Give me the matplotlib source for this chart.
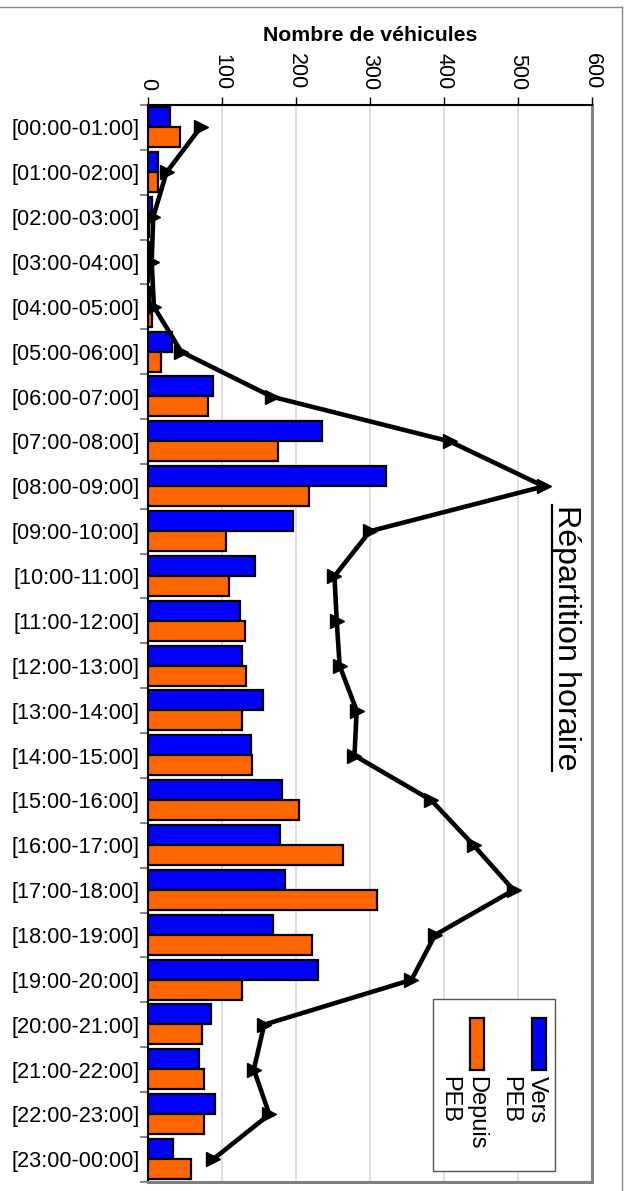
import matplotlib
matplotlib.use("Agg")
import matplotlib.pyplot as plt
from matplotlib.patches import Rectangle
from matplotlib.lines import Line2D
import numpy as np

plt.rcParams['font.family'] = ['Liberation Sans', 'DejaVu Sans']

# tranches horaires
hours = ['[00:00-01:00]', '[01:00-02:00]', '[02:00-03:00]', '[03:00-04:00]',
         '[04:00-05:00]', '[05:00-06:00]', '[06:00-07:00]', '[07:00-08:00]',
         '[08:00-09:00]', '[09:00-10:00]', '[10:00-11:00]', '[11:00-12:00]',
         '[12:00-13:00]', '[13:00-14:00]', '[14:00-15:00]', '[15:00-16:00]',
         '[16:00-17:00]', '[17:00-18:00]', '[18:00-19:00]', '[19:00-20:00]',
         '[20:00-21:00]', '[21:00-22:00]', '[22:00-23:00]', '[23:00-00:00]']

# valeurs
vers_peb = [30, 14, 5, 2, 3, 32, 88, 235, 322, 196, 144, 124,
            127, 156, 139, 181, 178, 185, 169, 230, 85, 69, 90, 34]
depuis_peb = [43, 13, 2, 1, 5, 17, 81, 175, 217, 105, 110, 131,
              132, 127, 140, 204, 264, 309, 222, 127, 73, 75, 75, 58]
total = [71, 25, 7, 5, 8, 45, 167, 408, 535, 300, 252, 255,
         259, 282, 279, 383, 440, 494, 388, 356, 157, 143, 164, 88]

xticks = [0, 100, 200, 300, 400, 500, 600]

blue = '#0000FF'
orange = '#FF6600'

fig = plt.figure(figsize=(6.28, 11.91), dpi=100)
ax = fig.add_axes([148/628, 1 - 1181.7/1191, 444/628, 1076.7/1191])

y = np.arange(len(hours))
h = 0.446
ax.barh(y - 0.228, vers_peb, height=h, color=blue, edgecolor='black', linewidth=1.6, zorder=3)
ax.barh(y + 0.218, depuis_peb, height=h, color=orange, edgecolor='black', linewidth=1.6, zorder=3)
ax.plot(total, y, color='black', linewidth=3.3, marker='>', markersize=10, zorder=4)

ax.set_xlim(0, 600)
ax.set_ylim(len(hours) - 0.5, -0.5)
ax.xaxis.tick_top()
ax.xaxis.set_label_position('top')
ax.set_xticks(xticks)
ax.set_xticklabels([str(v) for v in xticks], rotation=270, fontsize=15.5)
ax.tick_params(axis='x', direction='out', length=6, width=1, pad=5)
ax.set_xlabel('Nombre de véhicules', fontsize=15.3, fontweight='bold', labelpad=9)

ax.set_yticks(y)
ax.set_yticklabels(hours, fontsize=15.7)
ax.tick_params(axis='y', length=0, pad=6)
ax.set_yticks(np.arange(len(hours) + 1) - 0.5, minor=True)
ax.tick_params(axis='y', which='minor', direction='out', length=6, width=1.5, color='#888888')

ax.grid(axis='x', color='#d9d9d9', linewidth=1.2, zorder=0)
ax.set_axisbelow(True)
ax.spines['top'].set_linewidth(1.5)
ax.spines['left'].set_linewidth(1.5)
for s in ['right', 'bottom']:
    ax.spines[s].set_color('#808080')
    ax.spines[s].set_linewidth(2.2)

# titre vertical souligné
title = ax.text(0.941, 0.505, 'Répartition horaire', rotation=270, fontsize=23.2,
                ha='center', va='center', transform=ax.transAxes)

# légende dessinée à la main (tournée)
lx0, lx1 = (433 - 148) / 444, (555 - 148) / 444
ly0, ly1 = 1 - (1171 - 105) / 1076.7, 1 - (999 - 105) / 1076.7
ax.add_patch(Rectangle((lx0, ly0), lx1 - lx0, ly1 - ly0, transform=ax.transAxes,
                       facecolor='white', edgecolor='#555555', linewidth=1, zorder=5))
py0, py1 = 1 - (1070 - 105) / 1076.7, 1 - (1018 - 105) / 1076.7
for x0, col in [(531.7, blue), (470, orange)]:
    ax.add_patch(Rectangle(((x0 - 148) / 444, py0), 14 / 444, py1 - py0, transform=ax.transAxes,
                           facecolor=col, edgecolor='black', linewidth=1.6, zorder=6))
ty = 1 - (1076 - 105) / 1076.7
for xc, word in [(537, 'Vers'), (510, 'PEB'), (476, 'Depuis'), (449, 'PEB')]:
    ax.text((xc - 148) / 444, ty, word, rotation=270, fontsize=17, ha='center', va='top',
            transform=ax.transAxes, zorder=7)

fig.canvas.draw()
bb = title.get_window_extent(fig.canvas.get_renderer())
ux = bb.x0 + 1
fig.add_artist(Line2D([ux, ux], [bb.y0, bb.y1], transform=None, color='black', linewidth=1.6))

# cadre extérieur
fig.add_artist(Line2D([0, 621.5/628], [1 - 7/1191, 1 - 7/1191], transform=fig.transFigure,
                      color='#888888', linewidth=1))
fig.add_artist(Line2D([621.5/628, 621.5/628], [0, 1 - 7/1191], transform=fig.transFigure,
                      color='#888888', linewidth=1))

fig.savefig('out.png', dpi=100)
